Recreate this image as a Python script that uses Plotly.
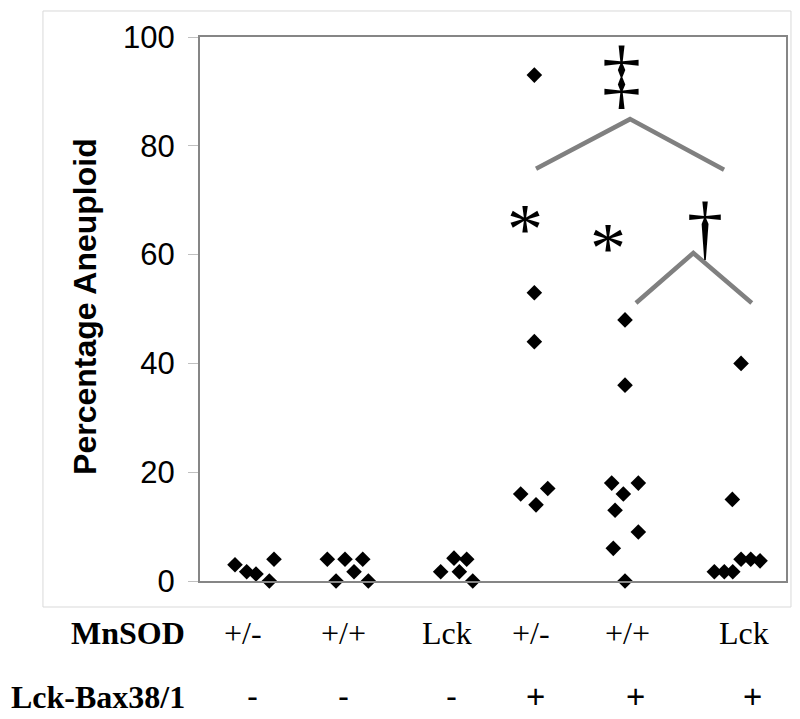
import plotly.graph_objects as go

# ---- data ----
mnsod_labels = ["+/-", "+/+", "Lck", "+/-", "+/+", "Lck"]
bax_labels = ["-", "-", "-", "+", "+", "+"]

g1_x = [0.418, 0.558, 0.669, 0.828, 0.884]
g1_y = [3.0, 1.7, 1.3, 0.0, 4.0]
g2_x = [1.521, 1.625, 1.732, 1.840, 1.944, 2.011]
g2_y = [4.0, 0.0, 4.0, 1.7, 4.0, 0.0]
g3_x = [2.875, 3.034, 3.098, 3.186, 3.258]
g3_y = [1.7, 4.2, 1.7, 4.0, 0.0]
g4_x = [3.994, 3.994, 3.994, 3.831, 4.014, 4.154]
g4_y = [93.0, 53.0, 44.0, 16.0, 14.0, 17.0]
g5_x = [5.077, 5.077, 5.077, 4.918, 5.236, 5.236, 5.057, 4.958, 4.937]
g5_y = [48.0, 36.0, 0.0, 18.0, 18.0, 9.0, 16.0, 13.0, 6.0]
g6_x = [6.463, 6.463, 6.359, 6.144, 6.263, 6.364, 6.579, 6.690]
g6_y = [40.0, 4.0, 15.0, 1.7, 1.7, 1.7, 4.0, 3.7]

y_ticks = [0, 20, 40, 60, 80, 100]

# significance brackets
bracket1_x = [4.014, 5.137, 6.260]
bracket1_y = [75.8, 84.9, 75.6]
bracket2_x = [5.208, 5.893, 6.591]
bracket2_y = [51.1, 60.3, 51.1]

# label positions (x in data units)
row1_x = [0.514, 1.709, 2.951, 3.954, 5.101, 6.499]
row2_x = [0.633, 1.709, 2.999, 4.002, 5.197, 6.595]

fig = go.Figure()

all_x = g1_x + g2_x + g3_x + g4_x + g5_x + g6_x
all_y = g1_y + g2_y + g3_y + g4_y + g5_y + g6_y
fig.add_trace(go.Scatter(
    x=all_x, y=all_y, mode="markers",
    marker=dict(symbol="diamond", size=12, color="black"),
    cliponaxis=False, showlegend=False, hoverinfo="skip"))

for bx, by in [(bracket1_x, bracket1_y), (bracket2_x, bracket2_y)]:
    fig.add_trace(go.Scatter(
        x=bx, y=by, mode="lines",
        line=dict(color="#808080", width=4.5),
        showlegend=False, hoverinfo="skip"))

serif = "Liberation Serif, Times New Roman, serif"
sans = "Liberation Sans, Arial, sans-serif"

ann = []
# significance symbols
ann.append(dict(x=3.888, y=64.7, text="*", font=dict(family=serif, size=72, color="black")))
ann.append(dict(x=4.874, y=61.2, text="*", font=dict(family=serif, size=72, color="black")))
ann.append(dict(x=5.038, y=93.2, text="‡", font=dict(family=serif, size=78, color="black")))
ann.append(dict(x=6.033, y=64.8, text="†", font=dict(family=serif, size=72, color="black")))
for a in ann:
    a.update(xref="x", yref="y", showarrow=False, xanchor="center", yanchor="middle")

for lab, xx in zip(mnsod_labels, row1_x):
    ann.append(dict(x=xx, y=-0.0956, xref="x", yref="paper", text=lab, showarrow=False,
                    xanchor="center", yanchor="middle",
                    font=dict(family=serif, size=32, color="black")))
for lab, xx in zip(bax_labels, row2_x):
    ann.append(dict(x=xx, y=-0.2132, xref="x", yref="paper", text=lab, showarrow=False,
                    xanchor="center", yanchor="middle",
                    font=dict(family=sans, size=33, color="black")))

ann.append(dict(x=-0.022, y=-0.0956, xref="paper", yref="paper", text="<b>MnSOD</b>",
                showarrow=False, xanchor="right", yanchor="middle",
                font=dict(family=serif, size=32, color="black")))
ann.append(dict(x=-0.022, y=-0.2132, xref="paper", yref="paper", text="<b>Lck-Bax38/1</b>",
                showarrow=False, xanchor="right", yanchor="middle",
                font=dict(family=serif, size=32, color="black")))
ann.append(dict(x=-0.196, y=0.504, xref="paper", yref="paper", text="<b>Percentage Aneuploid</b>",
                showarrow=False, xanchor="center", yanchor="middle", textangle=-90,
                font=dict(family=sans, size=32, color="black")))

# page body has an 8px margin, so the figure is 8px smaller and offset
fig.update_layout(
    width=792, height=711,
    margin=dict(l=192, r=14, t=29, b=138),
    paper_bgcolor="white", plot_bgcolor="white",
    annotations=ann,
    shapes=[dict(type="rect", xref="paper", yref="paper",
                 x0=-0.268, x1=1.0085, y0=-0.0478, y1=1.0478,
                 line=dict(color="#d9d9d9", width=1), fillcolor="rgba(0,0,0,0)",
                 layer="below")],
)
fig.update_xaxes(range=[0, 7], showgrid=False, zeroline=False, showticklabels=False,
                 ticks="", showline=True, linecolor="#868686", linewidth=2, mirror=True)
fig.update_yaxes(range=[0, 100], tickvals=y_ticks, showgrid=False, zeroline=False,
                 ticks="outside", ticklen=10, tickcolor="#c0c0c0", tickwidth=1,
                 ticklabelstandoff=7,
                 tickfont=dict(family=sans, size=31, color="black"),
                 showline=True, linecolor="#868686", linewidth=2, mirror=True)

fig.write_html("out.html")
